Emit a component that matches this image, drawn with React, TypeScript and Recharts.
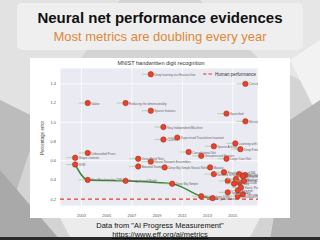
import { ComposedChart, Scatter, Line, XAxis, YAxis, CartesianGrid, ReferenceLine } from "recharts";

// results on MNIST (year, % error, paper)
const pointYears = [
  2008.5, 2003.5, 2006.5, 2008.5, 2016.0, 2014.5, 2016.0, 2009.5, 2009.5, 2010.6,
  2015.2, 2013.5, 2015.6, 2011.5, 2012.5, 2014.5, 2003.5, 2002.5, 2002.5, 2003.5,
  2006.5, 2007.5, 2008.5, 2007.5, 2009.6, 2010.2, 2012.5, 2013.2, 2013.5, 2014.3,
  2014.6, 2015.4, 2013.4, 2016.0, 2015.5, 2015.8, 2015.25, 2015.5, 2015.1, 2015.65,
  2015.4, 2015.8, 2014.6, 2015.9,
];
const pointErrors = [
  1.5, 1.2, 1.2, 1.12, 1.4, 1.09, 1.01, 0.95, 0.82, 0.84,
  0.78, 0.75, 0.72, 0.69, 0.65, 0.62, 0.68, 0.63, 0.56, 0.4,
  0.39, 0.62, 0.59, 0.54, 0.53, 0.36, 0.23, 0.53, 0.46, 0.48,
  0.39, 0.23, 0.21, 0.45, 0.46, 0.44, 0.41, 0.37, 0.36, 0.32,
  0.29, 0.25, 0.27, 0.39,
];
const pointLabels = [
  "Deep learning via Hessian-free", "Gabor", "Reducing the dimensionality", "Sparse features",
  "Convolutional Clustering", "Sparsified", "Mutual Exclusivity", "Stay Independent/Machine",
  "CDBN", "Supervised Translation-Invariant", "Learning with Sharpening", "Sparse Activity",
  "Deep Fried Convnets", "Convolutional Net", "Unsupervised Feature", "Large Conv Net",
  "Unbounded Priors", "Shape contexts", "SVM", "Best Practices for CNN",
  "Energy-based Model", "Deep Belief Nets", "Neural Network Ensembles", "Boosted Stumps",
  "Deep Big Simple Neural Nets", "Deep Big Simple", "Multi-Column DNN", "Maxout",
  "Network in Network", "Regularization of NN", "DropConnect", "Fractional Pool",
  "Regularization", "Batch-norm", "Deeply-Supervised", "Recurrent CNN",
  "Gen. Pooling", "Multi-scale", "Highway", "Stoch. Pooling",
  "Pyramid", "Tree pooling", "Sparse coding", "BinaryConnect",
];

// state of the art progression
const sotaYears = [2002.5, 2003.5, 2006.5, 2010.2, 2012.5, 2013.3];
const sotaErrors = [0.56, 0.4, 0.39, 0.36, 0.23, 0.21];

const humanError = 0.2;
const xTicks = [2003, 2005, 2007, 2009, 2011, 2013, 2015];
const yTicks = [0.2, 0.4, 0.6, 0.8, 1.0, 1.2, 1.4];

const points = pointYears.map((year, i) => ({ year, error: pointErrors[i], label: pointLabels[i] }));
const sota = sotaYears.map((year, i) => ({ year, error: sotaErrors[i] }));

const font = '"Liberation Sans", Arial, sans-serif';

const Dot = (p: any) => (
  <g>
    <line x1={p.cx - 9} y1={p.cy} x2={p.cx - 3} y2={p.cy} stroke="#9ccc8c" strokeWidth={0.7} />
    <circle cx={p.cx} cy={p.cy} r={2.7} fill="#e8412c" stroke="#a8321f" strokeWidth={0.6} />
    <text x={p.cx + 3.5} y={p.cy + 1.6} fontSize={3} fill="#666" fontFamily={font}>
      {p.payload.label}
    </text>
  </g>
);

export default function App() {
  return (
    <div style={{ position: "absolute", left: 0, top: 0, width: 320, height: 240, overflow: "hidden", background: "#d4d4d4", fontFamily: font }}>
      <svg width={320} height={240} style={{ position: "absolute", left: 0, top: 0 }}>
        <polygon points="0,0 120,0 40,120 0,100" fill="#e2e2e2" />
        <polygon points="0,100 40,120 0,240" fill="#bcbcbc" />
        <polygon points="0,170 60,240 0,240" fill="#a9a9a9" />
        <polygon points="200,0 320,0 320,90 260,60" fill="#e6e6e6" />
        <polygon points="290,60 320,40 320,120" fill="#f2f2f2" />
        <polygon points="290,120 320,100 320,240 270,240" fill="#b3b3b3" />
        <polygon points="60,218 260,218 250,237 70,237" fill="#ececec" />
        <rect x={0} y={237} width={320} height={3} fill="#2a2a2a" />
      </svg>

      <div style={{ position: "absolute", left: 17, top: 3, width: 286, height: 47, borderRadius: 5, background: "rgba(240,240,240,0.92)" }} />
      <div style={{ position: "absolute", left: 0, top: 9, width: 320, textAlign: "center", fontSize: 15, fontWeight: "bold", color: "#111", lineHeight: "18px" }}>
        Neural net performance evidences
      </div>
      <div style={{ position: "absolute", left: 0, top: 29, width: 320, textAlign: "center", fontSize: 13, color: "#e0873a", lineHeight: "16px" }}>
        Most metrics are doubling every year
      </div>

      <div style={{ position: "absolute", left: 30, top: 58, width: 260, height: 160, background: "#fff" }}>
        <ComposedChart width={260} height={160} margin={{ top: 10, right: 32, bottom: 2, left: 0 }}>
          <CartesianGrid fill="#eaeaf2" stroke="#ffffff" strokeWidth={0.8} />
          <XAxis
            type="number"
            dataKey="year"
            domain={[2001.3, 2017]}
            ticks={xTicks}
            allowDataOverflow
            axisLine={false}
            tickLine={false}
            height={10}
            tick={{ fontSize: 4, fill: "#555" }}
            tickMargin={2}
          />
          <YAxis
            type="number"
            dataKey="error"
            domain={[0.128, 1.565]}
            ticks={yTicks}
            allowDataOverflow
            axisLine={false}
            tickLine={false}
            width={30}
            tickMargin={-2}
            tick={{ fontSize: 4, fill: "#555" }}
            tickFormatter={(v: number) => v.toFixed(1)}
          />
          <ReferenceLine y={humanError} stroke="#e0392b" strokeWidth={1.2} strokeDasharray="4 3" />
          <Line data={sota} dataKey="error" type="monotone" stroke="#3d8a34" strokeWidth={1.5} dot={false} isAnimationActive={false} />
          <Scatter data={points} dataKey="error" shape={Dot} isAnimationActive={false} />
        </ComposedChart>
        <svg width={260} height={160} style={{ position: "absolute", left: 0, top: 0 }}>
          <text x={131} y={7} textAnchor="middle" fontSize={5.5} fill="#333" fontFamily={font}>
            MNIST handwritten digit recognition
          </text>
          <text x={14} y={80} textAnchor="middle" fontSize={4.5} fill="#444" fontFamily={font} transform="rotate(-90 14 80)">
            Percentage error
          </text>
          <line x1={173} y1={16} x2={182} y2={16} stroke="#e0392b" strokeWidth={1.2} strokeDasharray="3.5 2" />
          <text x={185} y={17.6} fontSize={4.5} fill="#333" fontFamily={font}>
            Human performance
          </text>
        </svg>
      </div>

      <div style={{ position: "absolute", left: 0, top: 221, width: 320, textAlign: "center", fontSize: 7.5, color: "#111", lineHeight: "9px" }}>
        Data from "AI Progress Measurement"
      </div>
      <div style={{ position: "absolute", left: 0, top: 230, width: 320, textAlign: "center", fontSize: 7.5, color: "#111", lineHeight: "9px", textDecoration: "underline" }}>
        https://www.eff.org/ai/metrics
      </div>
    </div>
  );
}
